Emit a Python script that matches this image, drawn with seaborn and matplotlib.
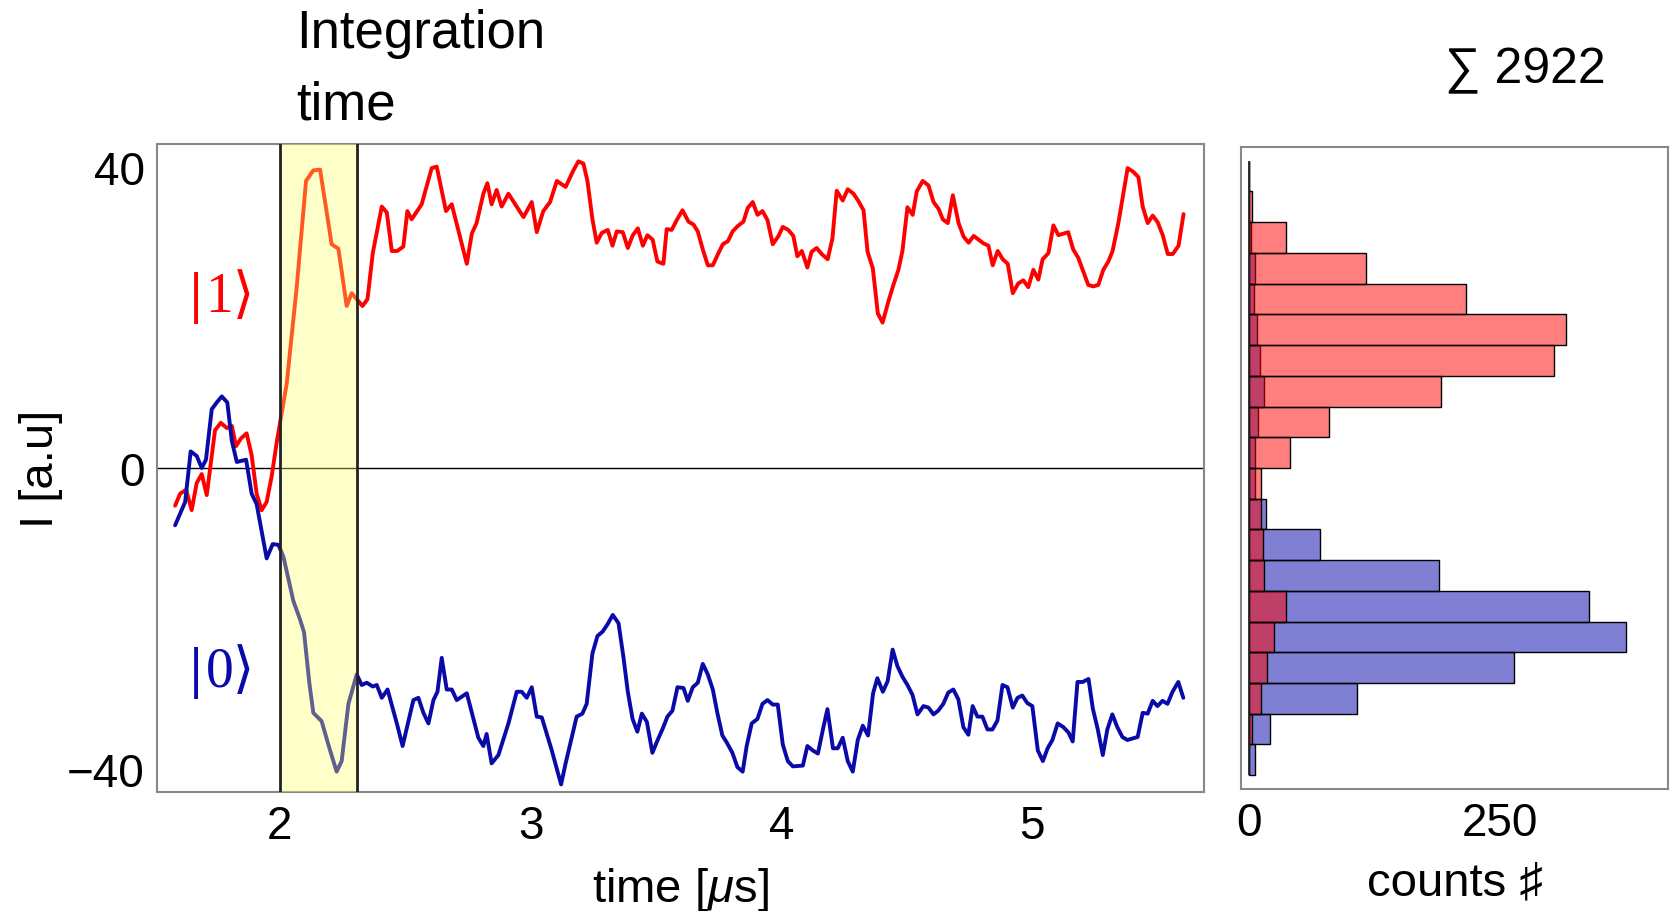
import matplotlib
matplotlib.use("Agg")
import matplotlib.pyplot as plt
import seaborn as sns

# traces (time in us, I in a.u.)
red_t = [1.583, 1.603, 1.627, 1.649, 1.669, 1.689, 1.709, 1.742, 1.765, 1.789,
         1.809, 1.826, 1.845, 1.868, 1.888, 1.908, 1.928, 1.948, 1.968, 1.988,
         2.028, 2.068, 2.105, 2.134, 2.161, 2.207, 2.234, 2.267, 2.287, 2.330,
         2.350, 2.371, 2.407, 2.427, 2.447, 2.469, 2.493, 2.509, 2.526, 2.566,
         2.606, 2.626, 2.663, 2.686, 2.746, 2.766, 2.785, 2.812, 2.828, 2.845,
         2.865, 2.885, 2.912, 2.945, 2.972, 3.005, 3.025, 3.051, 3.078, 3.105,
         3.140, 3.171, 3.191, 3.211, 3.227, 3.247, 3.264, 3.284, 3.308, 3.327,
         3.344, 3.368, 3.388, 3.408, 3.428, 3.448, 3.466, 3.487, 3.506, 3.530,
         3.543, 3.563, 3.583, 3.606, 3.630, 3.650, 3.667, 3.687, 3.707, 3.727,
         3.749, 3.767, 3.787, 3.806, 3.826, 3.849, 3.866, 3.886, 3.905, 3.925,
         3.945, 3.966, 3.989, 4.006, 4.028, 4.048, 4.064, 4.082, 4.104, 4.121,
         4.141, 4.161, 4.185, 4.204, 4.221, 4.245, 4.265, 4.288, 4.308, 4.328,
         4.344, 4.365, 4.385, 4.404, 4.427, 4.447, 4.467, 4.483, 4.503, 4.524,
         4.540, 4.564, 4.587, 4.607, 4.627, 4.644, 4.664, 4.684, 4.707, 4.727,
         4.747, 4.767, 4.787, 4.807, 4.826, 4.843, 4.863, 4.883, 4.903, 4.923,
         4.945, 4.965, 4.985, 5.005, 5.025, 5.042, 5.065, 5.085, 5.105, 5.144,
         5.164, 5.184, 5.224, 5.244, 5.264, 5.284, 5.304, 5.321, 5.344, 5.364,
         5.381, 5.404, 5.424, 5.441, 5.461, 5.481, 5.501, 5.521, 5.541, 5.561,
         5.584, 5.604]
red_i = [-5.0, -3.4, -2.9, -5.6, -2.0, -0.8, -3.6, 5.0, 6.0, 5.3,
         5.6, 2.9, 3.9, 4.6, 1.7, -3.4, -5.6, -4.5, -1.1, 3.4,
         11.2, 24.1, 38.1, 39.5, 39.6, 29.7, 29.1, 21.5, 23.2, 21.5,
         22.4, 28.5, 34.7, 33.9, 28.8, 28.8, 29.4, 34.1, 33.0, 35.0,
         39.8, 40.0, 34.1, 35.0, 27.1, 31.1, 32.5, 36.4, 37.8, 35.0,
         36.9, 34.7, 36.4, 34.7, 33.3, 35.3, 31.3, 34.1, 35.3, 38.1,
         37.3, 39.5, 40.7, 40.4, 38.1, 33.0, 29.9, 31.2, 31.6, 29.5,
         31.4, 31.3, 29.2, 30.9, 31.8, 29.5, 30.9, 30.3, 27.4, 27.1,
         31.7, 31.6, 32.9, 34.2, 32.7, 32.3, 31.4, 29.0, 26.9, 26.9,
         28.5, 29.7, 30.1, 31.4, 32.1, 32.7, 34.5, 35.3, 33.6, 34.1,
         32.9, 29.7, 30.8, 32.0, 31.6, 30.8, 28.1, 28.8, 26.6, 28.7,
         29.2, 28.4, 27.7, 30.5, 36.8, 35.5, 37.0, 36.4, 35.4, 34.2,
         28.7, 26.5, 20.5, 19.3, 22.1, 24.3, 26.3, 28.8, 34.6, 33.6,
         36.7, 38.1, 37.5, 35.3, 34.4, 33.0, 32.5, 36.2, 32.5, 30.7,
         29.9, 30.8, 30.3, 29.8, 29.5, 26.9, 28.8, 27.7, 27.1, 23.2,
         24.5, 24.9, 24.0, 26.3, 25.0, 27.7, 28.5, 32.2, 30.9, 31.3,
         29.0, 27.9, 24.3, 24.1, 24.3, 26.3, 27.4, 28.8, 32.5, 36.4,
         39.8, 39.3, 38.6, 34.7, 32.5, 33.5, 32.6, 30.9, 28.4, 28.4,
         29.5, 33.7]

blue_t = [1.583, 1.623, 1.645, 1.669, 1.689, 1.706, 1.729, 1.749, 1.769, 1.791,
          1.809, 1.829, 1.866, 1.888, 1.908, 1.928, 1.948, 1.972, 1.995, 2.015,
          2.054, 2.081, 2.097, 2.118, 2.134, 2.167, 2.201, 2.227, 2.247, 2.274,
          2.307, 2.327, 2.347, 2.371, 2.387, 2.407, 2.430, 2.467, 2.490, 2.533,
          2.553, 2.573, 2.593, 2.613, 2.629, 2.646, 2.666, 2.686, 2.706, 2.746,
          2.792, 2.812, 2.825, 2.845, 2.872, 2.912, 2.945, 2.965, 2.985, 3.005,
          3.025, 3.045, 3.085, 3.122, 3.140, 3.164, 3.184, 3.207, 3.224, 3.247,
          3.267, 3.288, 3.308, 3.328, 3.351, 3.371, 3.388, 3.407, 3.426, 3.444,
          3.464, 3.486, 3.507, 3.527, 3.546, 3.566, 3.586, 3.610, 3.627, 3.647,
          3.667, 3.687, 3.707, 3.727, 3.745, 3.765, 3.782, 3.805, 3.825, 3.846,
          3.862, 3.882, 3.905, 3.925, 3.945, 3.966, 3.986, 4.006, 4.026, 4.046,
          4.086, 4.104, 4.126, 4.146, 4.166, 4.184, 4.206, 4.225, 4.245, 4.265,
          4.285, 4.305, 4.325, 4.346, 4.366, 4.383, 4.405, 4.424, 4.444, 4.463,
          4.483, 4.503, 4.523, 4.543, 4.567, 4.587, 4.607, 4.626, 4.646, 4.666,
          4.686, 4.706, 4.726, 4.746, 4.763, 4.782, 4.802, 4.822, 4.842, 4.862,
          4.882, 4.902, 4.923, 4.942, 4.961, 4.981, 5.001, 5.023, 5.043, 5.062,
          5.081, 5.102, 5.125, 5.145, 5.162, 5.181, 5.202, 5.225, 5.242, 5.262,
          5.282, 5.300, 5.320, 5.340, 5.360, 5.380, 5.400, 5.421, 5.441, 5.461,
          5.481, 5.500, 5.520, 5.540, 5.560, 5.583, 5.603]
blue_i = [-7.6, -4.5, 2.2, 1.6, 0.0, 1.1, 7.8, 8.7, 9.5, 8.7,
          3.6, 0.8, 1.1, -3.4, -4.8, -8.4, -12.0, -10.1, -10.2, -11.8,
          -17.6, -20.1, -21.8, -28.5, -32.5, -33.6, -37.5, -40.3, -38.9, -31.3,
          -27.4, -28.8, -28.5, -29.0, -28.8, -30.5, -29.4, -33.9, -36.9, -30.8,
          -30.5, -32.5, -33.9, -30.8, -29.7, -25.2, -29.4, -29.4, -30.8, -29.9,
          -35.8, -36.9, -35.3, -39.2, -38.1, -33.9, -29.7, -29.7, -30.5, -29.1,
          -33.0, -33.1, -37.5, -42.0, -39.2, -35.8, -33.0, -32.6, -31.3, -24.6,
          -22.3, -21.7, -20.7, -19.5, -20.6, -25.2, -29.7, -33.3, -35.0, -32.6,
          -33.7, -37.8, -36.1, -34.6, -33.0, -32.2, -29.1, -29.2, -30.9, -29.1,
          -28.5, -26.0, -27.4, -29.4, -32.5, -35.5, -36.4, -37.8, -39.7, -40.3,
          -36.9, -33.9, -33.3, -31.3, -30.8, -31.4, -31.4, -36.7, -38.9, -39.6,
          -39.5, -36.9, -37.5, -37.9, -34.7, -32.0, -37.2, -37.2, -35.8, -38.9,
          -40.3, -36.1, -34.2, -35.5, -29.9, -27.9, -29.7, -28.3, -24.1, -26.3,
          -27.7, -28.8, -30.1, -32.7, -31.6, -31.8, -32.7, -32.2, -31.3, -29.8,
          -29.4, -30.7, -34.4, -35.4, -31.6, -33.0, -33.0, -34.7, -34.7, -33.5,
          -28.8, -29.1, -31.8, -30.5, -30.2, -31.2, -31.6, -37.5, -38.9, -37.2,
          -36.1, -33.9, -34.4, -35.1, -36.3, -28.4, -28.4, -28.0, -31.9, -34.7,
          -38.1, -34.7, -32.7, -34.4, -35.7, -36.1, -35.9, -35.7, -32.5, -32.6,
          -30.9, -31.6, -30.9, -31.3, -29.7, -28.4, -30.5]

# histogram of integrated signal, bins listed top to bottom
bin_centers = [38, 34, 30, 26, 22, 18, 14, 10, 6, 2,
               -2, -6, -10, -14, -18, -22, -26, -30, -34, -38]
bin_edges = [-40, -36, -32, -28, -24, -20, -16, -12, -8, -4, 0,
             4, 8, 12, 16, 20, 24, 28, 32, 36, 40]
red_counts = [0, 3, 37, 116, 216, 315, 304, 191, 80, 41,
              12, 12, 14, 15, 37, 25, 18, 12, 3, 0]
blue_counts = [0, 0, 2, 6, 5, 8, 11, 15, 9, 6,
               6, 17, 71, 189, 338, 375, 264, 107, 21, 6]
total_shots = 2922

integration_window = [2.0, 2.31]

RED = "#ff0000"
BLUE = "#0a0aa8"


def ket(ax, y, label, color):
    # thick bar, then the serif digit and angle bracket
    serif = ["Liberation Serif", "DejaVu Serif", "DejaVu Sans"]
    ax.text(1.643, y, "|", color=color, fontsize=40, family=serif,
            fontweight="bold", va="center", ha="left")
    ax.annotate(label + "⟩", xy=(1.643, y), xytext=(11, 0),
                textcoords="offset points", color=color, fontsize=40,
                family=serif, va="center", ha="left")


def make_plot():
    sns.set_style("white")
    plt.rcParams["font.family"] = ["Liberation Sans", "DejaVu Sans"]
    plt.rcParams["mathtext.fontset"] = "custom"
    plt.rcParams["mathtext.it"] = "Liberation Sans:italic"
    plt.rcParams["mathtext.rm"] = "Liberation Sans"
    plt.rcParams["text.color"] = "black"
    plt.rcParams["axes.labelcolor"] = "black"

    fig = plt.figure(figsize=(16.71, 9.12), dpi=100)
    ax = fig.add_axes([0.0940, 0.1305, 0.6266, 0.7105])
    ax2 = fig.add_axes([0.7427, 0.1338, 0.2555, 0.7040])

    # traces
    sns.lineplot(x=red_t, y=red_i, ax=ax, color=RED, lw=2.8,
                 sort=False, estimator=None, zorder=2)
    sns.lineplot(x=blue_t, y=blue_i, ax=ax, color=BLUE, lw=2.8,
                 sort=False, estimator=None, zorder=2)
    ax.axhline(0, color="black", lw=1.0, zorder=1)
    ax.axvspan(*integration_window, color="#ffff66", alpha=0.35, lw=0, zorder=3)
    for xv in integration_window:
        ax.axvline(xv, color="#222222", lw=2.0, zorder=4)

    ax.set_xlim(1.511, 5.686)
    ax.set_ylim(-43, 43)
    ax.set_xticks([2, 3, 4, 5])
    ax.set_yticks([-40, 0, 40])
    ax.tick_params(direction="in", length=5, width=1, colors="#555555",
                   labelcolor="black", labelsize=33, pad=9)
    ax.set_xlabel(r"time [$\mu$s]", fontsize=34)
    ax.set_ylabel("I [a.u]", fontsize=34)
    ax.xaxis.set_label_coords(0.5, -0.112)
    ax.yaxis.set_label_coords(-0.090, 0.5)
    for sp in ax.spines.values():
        sp.set_color("#888888")
        sp.set_linewidth(1.5)

    ket(ax, 22.7, "1", RED)
    ket(ax, -27.1, "0", BLUE)

    # histogram: blue first, red on top
    sns.histplot(y=bin_centers, weights=blue_counts, bins=bin_edges, ax=ax2,
                 color="#0000aa", alpha=0.5, edgecolor="black", linewidth=1.0)
    sns.histplot(y=bin_centers, weights=red_counts, bins=bin_edges, ax=ax2,
                 color=RED, alpha=0.5, edgecolor="black", linewidth=1.0)
    ax2.vlines(0, bin_edges[0], bin_edges[-1], color="#222222", lw=1.2)
    ax2.set_xlim(-8, 417)
    ax2.set_ylim(-41.8, 41.8)
    ax2.set_xticks([0, 250])
    ax2.set_yticks([])
    ax2.tick_params(direction="in", length=5, width=1, colors="#555555",
                    labelcolor="black", labelsize=33, pad=9)
    ax2.set_ylabel("")
    ax2.set_xlabel("counts ♯", fontsize=34)
    ax2.xaxis.set_label_coords(0.5, -0.112)
    for sp in ax2.spines.values():
        sp.set_color("#888888")
        sp.set_linewidth(1.5)

    fig.text(0.177, 0.924, "Integration\ntime", fontsize=38, ha="left",
             va="center", linespacing=1.55)
    fig.text(0.913, 0.922, "∑ " + str(total_shots), fontsize=36,
             ha="center", va="center")

    fig.savefig("out.png", dpi=100)


def main():
    make_plot()


if __name__ == "__main__":
    main()
